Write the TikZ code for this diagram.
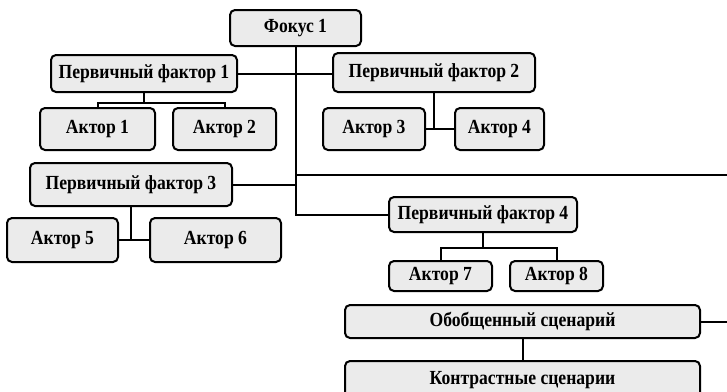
\documentclass[tikz,border=0pt]{standalone}
\usepackage{fontspec}
\setmainfont{Liberation Serif}[FakeStretch=0.88]
\usetikzlibrary{positioning}

\begin{document}
\begin{tikzpicture}[x=0.5pt,y=0.5pt,
    box/.style={draw, line width=1pt, rounded corners=2.5pt, fill=black!8,
                inner sep=0pt, font=\fontsize{10}{12}\selectfont\bfseries},
    link/.style={line width=1pt}]
  \useasboundingbox (0,0) rectangle (727,-391);
  % focus and primary factors
  \node[box, minimum width=65.5pt, minimum height=18pt] (fokus) at (295.5,-28) {Фокус 1};
  \node[box, minimum width=93pt, minimum height=18.5pt] (pf1) at (144,-73.5) {Первичный фактор 1};
  \node[box, minimum width=101pt, minimum height=19.5pt] (pf2) at (434,-72.5) {Первичный фактор 2};
  \node[box, minimum width=101pt, minimum height=21.5pt] (pf3) at (131,-184.5) {Первичный фактор 3};
  \node[box, minimum width=94pt, minimum height=17.5pt] (pf4) at (483,-214.5) {Первичный фактор 4};
  % actors
  \node[box, minimum width=57.5pt, minimum height=21pt] (a1) at (97.5,-129) {Актор 1};
  \node[box, minimum width=51.5pt, minimum height=21pt] (a2) [right=8pt of a1] {Актор 2};
  \node[box, minimum width=51pt, minimum height=21pt] (a3) at (374,-129) {Актор 3};
  \node[box, minimum width=44.5pt, minimum height=21pt] (a4) [right=14pt of a3] {Актор 4};
  \node[box, minimum width=55.5pt, minimum height=22pt] (a5) at (62.5,-240) {Актор 5};
  \node[box, minimum width=65.5pt, minimum height=22pt] (a6) [right=15pt of a5] {Актор 6};
  \node[box, minimum width=51.5pt, minimum height=15pt] (a7) at (440.5,-276) {Актор 7};
  \node[box, minimum width=46.5pt, minimum height=15pt] (a8) [right=8pt of a7] {Актор 8};
  % scenarios
  \node[box, minimum width=177.5pt, minimum height=16.5pt] (obob) at (522.5,-321.5) {Обобщенный сценарий};
  \node[box, minimum width=177.5pt, minimum height=19pt] (kontr) [below=10.5pt of obob] {Контрастные сценарии};
  \coordinate (rim) at (727,-175);
  \coordinate (rim2) at (727,-321.5);

  \draw[link] (fokus.south) -- (fokus.south |- pf4.west) -- (pf4.west);
  \draw[link] (pf1.east) -- (pf1.east -| pf2.west);
  \draw[link] (pf3.east) -- (pf3.east -| fokus.south);
  \draw[link] (fokus.south |- rim) -- (rim);
  \draw[link] (pf1.south) -- ++(0,-10) coordinate (j1);
  \draw[link] (a1.north) |- (j1) -| (a2.north);
  \draw[link] (pf2.south) -- (pf2.south |- a3.east);
  \draw[link] (a3.east) -- (a4.west);
  \draw[link] (pf3.south) -- (pf3.south |- a5.east);
  \draw[link] (a5.east) -- (a6.west);
  \draw[link] (pf4.south) -- ++(0,-15) coordinate (j4);
  \draw[link] (a7.north) |- (j4) -| (a8.north);
  \draw[link] (obob.east) -- (rim2);
  \draw[link] (obob.south) -- (kontr.north);
\end{tikzpicture}
\end{document}
